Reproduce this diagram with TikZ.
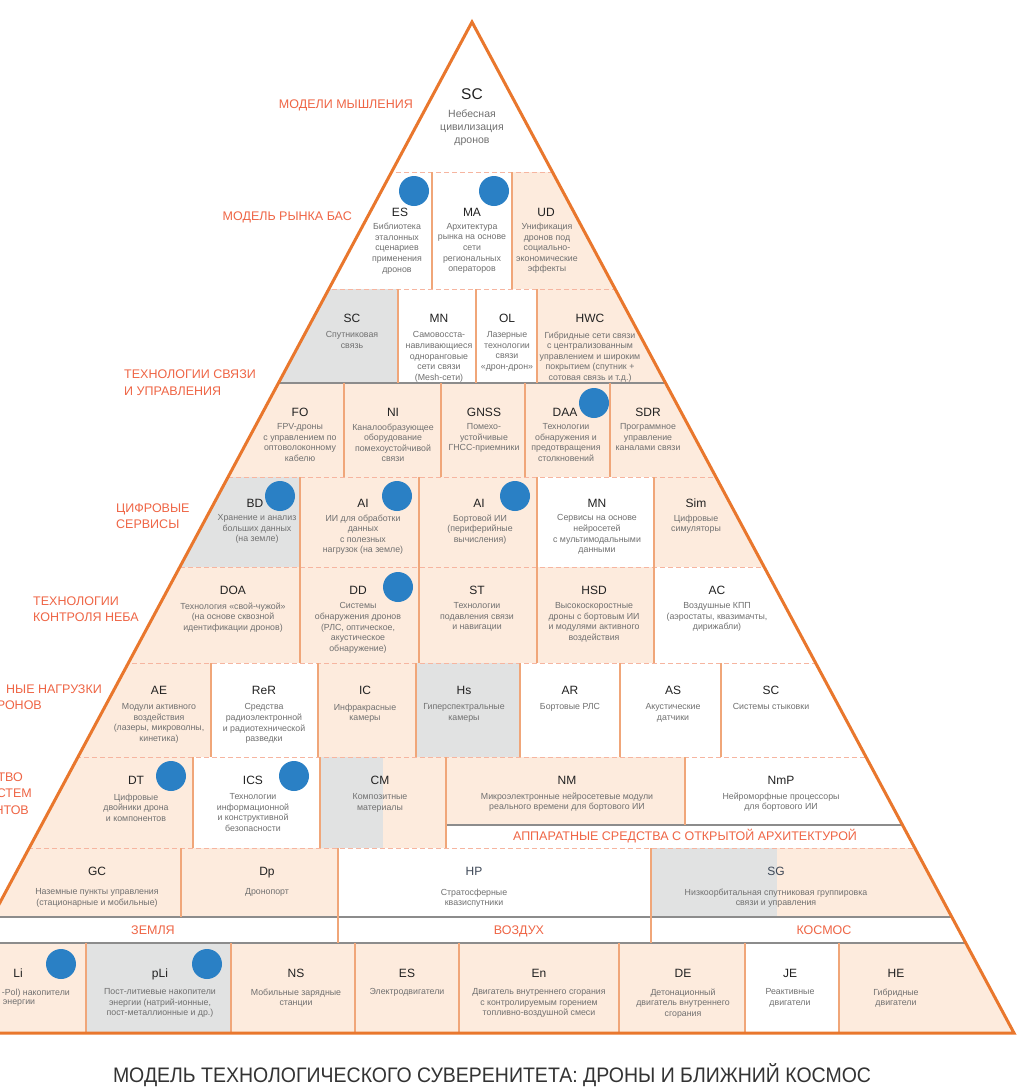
\documentclass[tikz,border=0pt]{standalone}
\usepackage{fontspec}
\setmainfont{Liberation Sans}
\usepackage{graphicx}
\definecolor{peach}{HTML}{FDEBDD}
\definecolor{cgray}{HTML}{E1E2E2}
\definecolor{tri}{HTML}{E9772D}
\definecolor{divc}{HTML}{F0A679}
\definecolor{dashc}{HTML}{F6B5A0}
\definecolor{gline}{HTML}{8C8C8C}
\definecolor{lab}{HTML}{EF6545}
\definecolor{dotc}{HTML}{2A80C5}
\definecolor{codec}{HTML}{222222}
\definecolor{slate}{HTML}{3D4756}
\definecolor{descc}{HTML}{707070}
\definecolor{titc}{HTML}{333333}
\tikzset{
  codest/.style={font=\fontsize{12}{14}\selectfont, text=codec, inner sep=0pt, text height=8.6pt, text depth=0pt, anchor=center},
  descst/.style={font=\fontsize{8.8}{10.6}\selectfont, text=descc, inner sep=0pt, align=center, anchor=north},
  labst/.style={font=\fontsize{12.5}{15}\selectfont, text=lab, inner sep=0pt, text height=9pt, text depth=0pt},
  dashln/.style={dashc, line width=1pt, dash pattern=on 5pt off 3pt},
  grayln/.style={gline, line width=1.2pt},
  divln/.style={divc, line width=1.3pt},
  bdot/.style={circle, fill=dotc, minimum size=30pt, inner sep=0pt, draw=none},
}
% name, x code, y code, code, x desc, y desc (top), desc
\newcommand{\Cell}[7]{%
  \node[codest] (#1) at (#2,#3) {#4};
  \node[descst] (#1d) at (#5,#6) {#7};}
\begin{document}
\begin{tikzpicture}[x=1pt,y=-1pt]
\useasboundingbox (0,0) rectangle (1033,1088);
\fill[white] (0,0) rectangle (1033,1088);
\coordinate (apex) at (472,22);
\coordinate (br) at (1014,1033);
\coordinate (bl) at (-70,1033);
\begin{scope}
\clip (apex) -- (br) -- (bl) -- cycle;
% row 2
\fill[peach] (512,172) rectangle (1100,289);
% row 3
\fill[cgray] (-100,289) rectangle (398,383);
\fill[peach] (537,289) rectangle (1100,383);
% row 4
\fill[peach] (-100,383) rectangle (1100,477);
% row 5
\fill[cgray] (-100,477) rectangle (300,567);
\fill[peach] (300,477) rectangle (537,567);
\fill[peach] (654,477) rectangle (1100,567);
% row 6
\fill[peach] (-100,567) rectangle (654,663);
% row 7
\fill[peach] (-100,663) rectangle (211,757);
\fill[peach] (318,663) rectangle (416,757);
\fill[cgray] (416,663) rectangle (520,757);
% row 8
\fill[peach] (-100,757) rectangle (193,848);
\fill[cgray] (320,757) rectangle (383,848);
\fill[peach] (383,757) rectangle (446,848);
\fill[peach] (446,757) rectangle (685,825);
% row 9
\fill[peach] (-100,848) rectangle (338,917);
\fill[cgray] (651,848) rectangle (777,917);
\fill[peach] (777,848) rectangle (1100,917);
% row 10
\fill[peach] (-100,943) rectangle (86,1033);
\fill[cgray] (86,943) rectangle (231,1033);
\fill[peach] (231,943) rectangle (745,1033);
\fill[peach] (839,943) rectangle (1100,1033);
% horizontal lines
\foreach \yy in {172,289,477,567,663,757,848} \draw[dashln] (-100,\yy) -- (1100,\yy);
\foreach \yy in {383,917,943} \draw[grayln] (-100,\yy) -- (1100,\yy);
\draw[grayln] (446,825) -- (1100,825);
% vertical dividers
\foreach \xx in {432,512} \draw[divln] (\xx,172) -- (\xx,289);
\foreach \xx in {398,476,537} \draw[divln] (\xx,289) -- (\xx,383);
\foreach \xx in {344,441,525,610} \draw[divln] (\xx,383) -- (\xx,477);
\foreach \xx in {300,419,537,654} \draw[divln] (\xx,477) -- (\xx,663);
\foreach \xx in {211,318,416,520,620,721} \draw[divln] (\xx,663) -- (\xx,757);
\foreach \xx in {193,320,446} \draw[divln] (\xx,757) -- (\xx,848);
\draw[divln] (685,757) -- (685,825);
\draw[divln] (181,848) -- (181,917);
\foreach \xx in {338,651} \draw[divln] (\xx,848) -- (\xx,943);
\foreach \xx in {86,231,355,459,619,745,839} \draw[divln] (\xx,943) -- (\xx,1033);
\end{scope}
\draw[tri, line width=3pt, line join=miter] (apex) -- (br) -- (bl) -- cycle;

% left labels
\node[labst, anchor=east] (l1) at (413,104) {МОДЕЛИ МЫШЛЕНИЯ};
\node[labst, anchor=east] (l2) at (352,216) {МОДЕЛЬ РЫНКА БАС};
\node[labst, anchor=west] (l3a) at (124,374) {ТЕХНОЛОГИИ СВЯЗИ};
\node[labst, anchor=west] (l3b) at (124,391) {И УПРАВЛЕНИЯ};
\node[labst, anchor=west] (l4a) at (116,508) {ЦИФРОВЫЕ};
\node[labst, anchor=west] (l4b) at (116,524) {СЕРВИСЫ};
\node[labst, anchor=west] (l5a) at (33,601) {ТЕХНОЛОГИИ};
\node[labst, anchor=west] (l5b) at (33,617) {КОНТРОЛЯ НЕБА};
\node[labst, anchor=east] (l6a) at (102,689) {НЫЕ НАГРУЗКИ};
\node[labst, anchor=east] (l6b) at (42,705) {РОНОВ};
\node[labst, anchor=east] (l7a) at (23,777) {ТВО};
\node[labst, anchor=east] (l7b) at (32,793) {СТЕМ};
\node[labst, anchor=east] (l7c) at (29,810) {НТОВ};
\node[labst] (oa) at (685,836) {АППАРАТНЫЕ СРЕДСТВА С ОТКРЫТОЙ АРХИТЕКТУРОЙ};
\node[labst] (zem) at (153,930) {ЗЕМЛЯ};
\node[labst] (voz) at (519,930) {ВОЗДУХ};
\node[labst] (kos) at (824,930) {КОСМОС};

% row 1
\node[codest, font=\fontsize{15.5}{18}\selectfont, text height=11.1pt] (sc0) at (472,94) {SC};
\node[descst, font=\fontsize{10.5}{12.7}\selectfont] (sc0d) at (472,110) {Небесная\\цивилизация\\дронов};
% row 2
\Cell{es}{400}{212}{ES}{397}{223}{Библиотека\\эталонных\\сценариев\\применения\\дронов}
\Cell{ma}{472}{212}{MA}{472}{223}{Архитектура\\рынка на основе\\сети\\региональных\\операторов}
\Cell{ud}{546}{212}{UD}{547}{223}{Унификация\\дронов под\\социально-\\экономические\\эффекты}
% row 3
\Cell{sc}{352}{318}{SC}{352}{331.5}{Спутниковая\\связь}
\Cell{mn}{439}{318}{MN}{439}{331.5}{Самовосста-\\навливающиеся\\одноранговые\\сети связи\\(Mesh-сети)}
\Cell{ol}{507}{318}{OL}{507}{331.5}{Лазерные\\технологии\\связи\\«дрон-дрон»}
\Cell{hwc}{590}{318}{HWC}{590}{331.5}{Гибридные сети связи\\с централизованным\\управлением и широким\\покрытием (спутник +\\сотовая связь и т.д.)}
% row 4
\Cell{fo}{300}{412}{FO}{300}{423.5}{FPV-дроны\\с управлением по\\оптоволоконному\\кабелю}
\Cell{ni}{393}{412}{NI}{393}{423.5}{Каналообразующее\\оборудование\\помехоустойчивой\\связи}
\Cell{gnss}{484}{412}{GNSS}{484}{423.5}{Помехо-\\устойчивые\\ГНСС-приемники}
\Cell{daa}{565}{412}{DAA}{566}{423.5}{Технологии\\обнаружения и\\предотвращения\\столкновений}
\Cell{sdr}{648}{412}{SDR}{648}{423.5}{Программное\\управление\\каналами связи}
% row 5
\Cell{bd}{255}{503}{BD}{257}{514.5}{Хранение и анализ\\больших данных\\(на земле)}
\Cell{aia}{363}{503}{AI}{363}{514.5}{ИИ для обработки\\данных\\с полезных\\нагрузок (на земле)}
\Cell{aib}{479}{503}{AI}{480}{514.5}{Бортовой ИИ\\(периферийные\\вычисления)}
\Cell{mnb}{597}{503}{MN}{597}{514.5}{Сервисы на основе\\нейросетей\\с мультимодальными\\данными}
\Cell{sim}{696}{503}{Sim}{696}{514.5}{Цифровые\\симуляторы}
% row 6
\Cell{doa}{233}{590}{DOA}{233}{602.5}{Технология «свой-чужой»\\(на основе сквозной\\идентификации дронов)}
\Cell{dd}{358}{590}{DD}{358}{602.5}{Системы\\обнаружения дронов\\(РЛС, оптическое,\\акустическое\\обнаружение)}
\Cell{st}{477}{590}{ST}{477}{602.5}{Технологии\\подавления связи\\и навигации}
\Cell{hsd}{594}{590}{HSD}{594}{602.5}{Высокоскоростные\\дроны с бортовым ИИ\\и модулями активного\\воздействия}
\Cell{ac}{717}{590}{AC}{717}{602.5}{Воздушные КПП\\(аэростаты, квазимачты,\\дирижабли)}
% row 7
\Cell{ae}{159}{690}{AE}{159}{703.5}{Модули активного\\воздействия\\(лазеры, микроволны,\\кинетика)}
\Cell{rer}{264}{690}{ReR}{264}{703.5}{Средства\\радиоэлектронной\\и радиотехнической\\разведки}
\Cell{ic}{365}{690}{IC}{365}{703.5}{Инфракрасные\\камеры}
\Cell{hs}{464}{690}{Hs}{464}{703.5}{Гиперспектральные\\камеры}
\Cell{ar}{570}{690}{AR}{570}{703.5}{Бортовые РЛС}
\Cell{as}{673}{690}{AS}{673}{703.5}{Акустические\\датчики}
\Cell{scb}{771}{690}{SC}{771}{703.5}{Системы стыковки}
% row 8
\Cell{dt}{136}{780}{DT}{136}{793.5}{Цифровые\\двойники дрона\\и компонентов}
\Cell{ics}{253}{780}{ICS}{253}{793.5}{Технологии\\информационной\\и конструктивной\\безопасности}
\Cell{cm}{380}{780}{CM}{380}{793.5}{Композитные\\материалы}
\Cell{nm}{567}{780}{NM}{567}{792.5}{Микроэлектронные нейросетевые модули\\реального времени для бортового ИИ}
\Cell{nmp}{781}{780}{NmP}{781}{792.5}{Нейроморфные процессоры\\для бортового ИИ}
% row 9
\Cell{gc}{97}{871}{GC}{97}{888.5}{Наземные пункты управления\\(стационарные и мобильные)}
\Cell{dp}{267}{871}{Dp}{267}{888.5}{Дронопорт}
\node[codest, text=slate] (hp) at (474,871) {HP};
\node[descst] (hpd) at (474,888.5) {Стратосферные\\квазиспутники};
\node[codest, text=slate] (sg) at (776,871) {SG};
\node[descst] (sgd) at (776,888.5) {Низкоорбитальная спутниковая группировка\\связи и управления};
% row 10
\node[codest] (li) at (18,973) {Li};
\node[descst, anchor=north east] (lid1) at (70,988.5) {-Pol) накопители};
\node[descst] (lid2) at (19,999.1) {энергии};
\Cell{pli}{160}{973}{pLi}{160}{988.5}{Пост-литиевые накопители\\энергии (натрий-ионные,\\пост-металлионные и др.)}
\Cell{ns}{296}{973}{NS}{296}{988.5}{Мобильные зарядные\\станции}
\Cell{esb}{407}{973}{ES}{407}{988.5}{Электродвигатели}
\Cell{en}{539}{973}{En}{539}{988.5}{Двигатель внутреннего сгорания\\с контролируемым горением\\топливно-воздушной смеси}
\Cell{de}{683}{973}{DE}{683}{988.5}{Детонационный\\двигатель внутреннего\\сгорания}
\Cell{je}{790}{973}{JE}{790}{988.5}{Реактивные\\двигатели}
\Cell{he}{896}{973}{HE}{896}{988.5}{Гибридные\\двигатели}

% blue dots
\node[bdot] (d1) at (414,191) {};
\node[bdot] (d2) at (494,191) {};
\node[bdot] (d3) at (594,403) {};
\node[bdot] (d4) at (280,496) {};
\node[bdot] (d5) at (397,496) {};
\node[bdot] (d6) at (515,496) {};
\node[bdot] (d7) at (398,587) {};
\node[bdot] (d8) at (171,776) {};
\node[bdot] (d9) at (294,776) {};
\node[bdot] (d10) at (61,964) {};
\node[bdot] (d11) at (207,964) {};

% title
\node[font=\fontsize{21}{24}\selectfont, text=titc, inner sep=0pt] (title) at (492,1075) {\resizebox{758pt}{\height}{МОДЕЛЬ ТЕХНОЛОГИЧЕСКОГО СУВЕРЕНИТЕТА: ДРОНЫ И БЛИЖНИЙ КОСМОС}};
\end{tikzpicture}
\end{document}
